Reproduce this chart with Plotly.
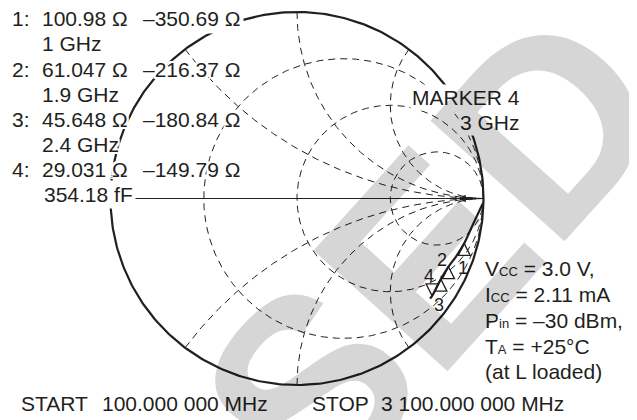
import numpy as np
import plotly.graph_objects as go

# ---------------- data ----------------
Z0 = 50.0
freq_ghz = [0.1, 0.5, 1.0, 1.5, 1.9, 2.4, 3.0, 3.1]
res_ohm = [400.0, 200.0, 100.98, 75.0, 61.047, 45.648, 29.031, 27.5]
react_ohm = [-3800.0, -612.0, -350.69, -265.0, -216.37, -180.84, -149.79, -145.0]

marker_labels = ["1", "2", "3", "4"]
marker_freq = ["1 GHz", "1.9 GHz", "2.4 GHz", "354.18 fF"]
marker_res = [100.98, 61.047, 45.648, 29.031]
marker_react = [-350.69, -216.37, -180.84, -149.79]
marker_res_txt = ["100.98 \u03a9", "61.047 \u03a9", "45.648 \u03a9", "29.031 \u03a9"]
marker_react_txt = ["\u2013350.69 \u03a9", "\u2013216.37 \u03a9", "\u2013180.84 \u03a9", "\u2013149.79 \u03a9"]

r_grid = [1 / 3, 1.0, 3.0]
x_grid = [0.5, 1.0, 2.0, -0.5, -1.0, -2.0]

# ---------------- layout constants ----------------
OFF = 8  # default page body margin
W, H = 637 - OFF, 420 - OFF
CX, CY, RAD = 297.0 - OFF, 198.5 - OFF, 186.5
INK = "#231f20"
FONT = "Liberation Sans"
FS = 21
HALO = ("2px 0 0 #fff, -2px 0 0 #fff, 0 2px 0 #fff, 0 -2px 0 #fff, "
        "2px 2px 0 #fff, -2px -2px 0 #fff, 2px -2px 0 #fff, -2px 2px 0 #fff, "
        "0 0 3px #fff")


def gamma(r_ohm, x_ohm):
    z = (np.asarray(r_ohm) + 1j * np.asarray(x_ohm)) / Z0
    return (z - 1) / (z + 1)


def px(x):
    return (x - OFF) / W


def py(y):
    return 1 - (y - OFF) / H


fig = go.Figure()
t = np.linspace(0, 2 * np.pi, 400)
DASH = dict(color=INK, width=1, dash="7px,5px")

# constant resistance circles
for r in r_grid:
    c, rho = r / (1 + r), 1 / (1 + r)
    fig.add_trace(go.Scatter(x=c + rho * np.cos(t), y=rho * np.sin(t), mode="lines",
                             line=DASH, hoverinfo="skip"))

# constant reactance arcs (inside the unit circle only)
for xv in x_grid:
    a = abs(xv)
    ex, ey = (a * a - 1) / (a * a + 1), 2 * a / (a * a + 1)
    th0 = np.arctan2(ey - 1 / a, ex - 1)
    th1 = -np.pi / 2 if th0 < -np.pi / 2 else 1.5 * np.pi
    th = np.linspace(th0, th1, 300)
    gx = 1 + (1 / a) * np.cos(th)
    gy = 1 / a + (1 / a) * np.sin(th)
    if xv < 0:
        gy = -gy
    fig.add_trace(go.Scatter(x=gx, y=gy, mode="lines", line=DASH, hoverinfo="skip"))

# real axis
fig.add_trace(go.Scatter(x=[-1, 1], y=[0, 0], mode="lines",
                         line=dict(color=INK, width=1), hoverinfo="skip"))
# outer circle
fig.add_trace(go.Scatter(x=np.cos(t), y=np.sin(t), mode="lines",
                         line=dict(color=INK, width=2.2), hoverinfo="skip"))

# measured trace
g = gamma(res_ohm, react_ohm)
fig.add_trace(go.Scatter(x=g.real, y=g.imag, mode="lines",
                         line=dict(color=INK, width=2.2, shape="spline"), hoverinfo="skip"))

# markers
gm = gamma(marker_res, marker_react)
fig.add_trace(go.Scatter(x=gm.real, y=gm.imag, mode="markers",
                         marker=dict(symbol=["arrow-up-open"] * 3 + ["arrow-down-open"], size=12,
                                     color=INK, line=dict(color=INK, width=1.3)),
                         hoverinfo="skip"))

ann = []


def text(s, x, y, xanchor="left", size=FS, bg=None, pad=2):
    d = dict(text=s, x=px(x), y=py(y), xref="paper", yref="paper", xanchor=xanchor,
             yanchor="middle", showarrow=False, borderpad=0,
             font=dict(family=FONT, size=size, color=INK, shadow=HALO))
    if bg:
        d["bgcolor"] = bg
        d["borderpad"] = pad
    ann.append(d)


row_y = [19, 69.5, 119.5, 169.5]
for i in range(4):
    text(marker_labels[i] + ":", 11, row_y[i])
    text(marker_res_txt[i], 41, row_y[i])
    text(marker_react_txt[i], 142 if i else 139, row_y[i],
         bg="white" if i == 0 else None, pad=3)
    text(marker_freq[i], 41, row_y[i] + 25, bg="white" if i == 3 else None)

text("MARKER 4", 522, 97, xanchor="right", bg="white", pad=1)
text("3 GHz", 522, 122, xanchor="right", bg="white", pad=1)

sm = "<span style='font-size:13px'>%s</span>"
text("V" + sm % "CC" + " = 3.0 V,", 484, 268)
text("I" + sm % "CC" + " = 2.11 mA", 484, 294)
text("P" + sm % "in" + " = \u201330 dBm,", 484, 320)
text("T" + sm % "A" + " = +25\u00b0C", 484, 346)
text("(at L loaded)", 484, 371)

text("START", 20, 403)
text("100.000 000 MHz", 101, 403)
text("STOP", 311, 403)
text("3 100.000 000 MHz", 380, 403)

# marker number labels (offsets from the marker points)
lab_shift = [(-1, -25), (-6, 7), (-2, -26), (-3, 20)]
for i in range(4):
    ann.append(dict(text=marker_labels[i], x=gm.real[i], y=gm.imag[i], xref="x", yref="y",
                    xshift=lab_shift[i][0], yshift=lab_shift[i][1], showarrow=False,
                    font=dict(family=FONT, size=18, color=INK)))

# small pointer on the real axis
ann.append(dict(x=0.865, y=0, ax=0.93, ay=0, xref="x", yref="y", axref="x", ayref="y",
                showarrow=True, arrowhead=2, arrowsize=0.5, arrowwidth=3, arrowcolor=INK, text=""))

# watermark (drawn last, translucent so black ink stays black)
ann.append(dict(text="<b>SED</b>", x=px(432), y=py(254), xref="paper", yref="paper",
                showarrow=False, textangle=-48, xanchor="center", yanchor="middle",
                font=dict(family=FONT, size=262, color="rgba(0,0,0,0.16)")))

fig.update_layout(
    width=W, height=H, margin=dict(l=0, r=0, t=0, b=0),
    paper_bgcolor="white", plot_bgcolor="white", showlegend=False,
    xaxis=dict(range=[-CX / RAD, (W - CX) / RAD], visible=False, fixedrange=True),
    yaxis=dict(range=[(CY - H) / RAD, CY / RAD], visible=False, fixedrange=True),
    annotations=ann,
)

fig.write_html("out.html")
